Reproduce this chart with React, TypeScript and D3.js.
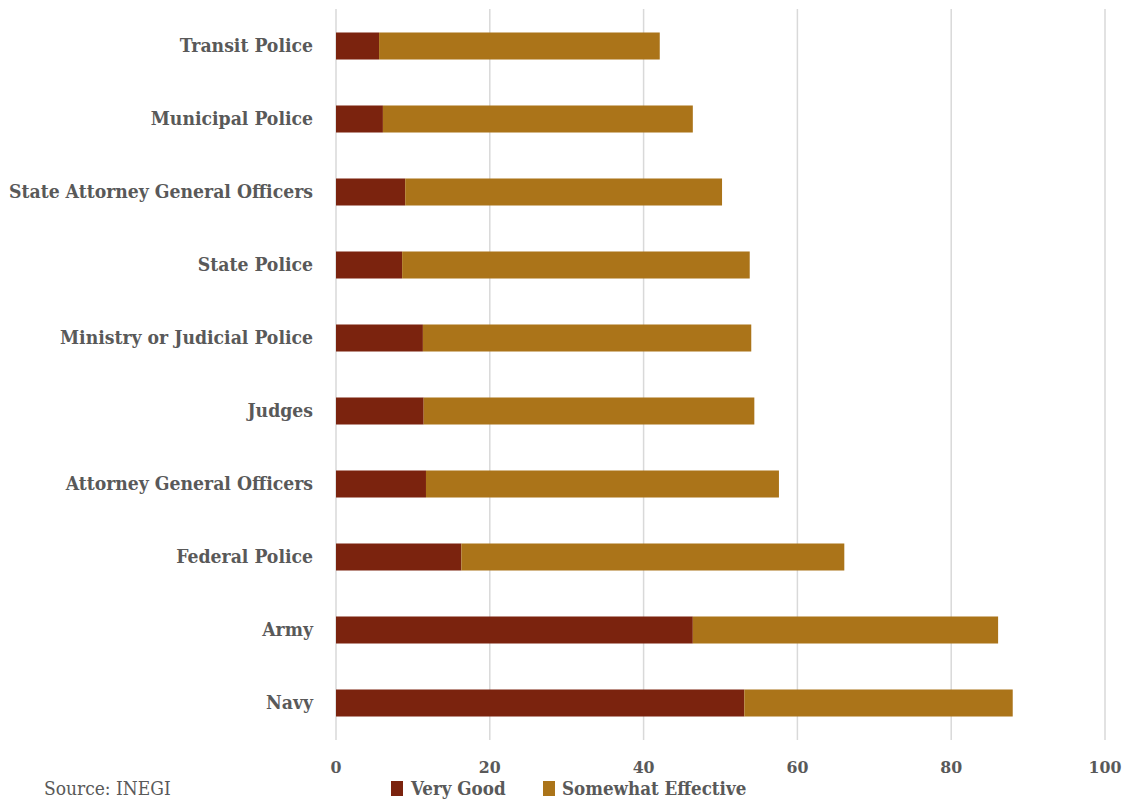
import React from "react";
import * as d3 from "d3";

const categories = [
  "Transit Police",
  "Municipal Police",
  "State Attorney General Officers",
  "State Police",
  "Ministry or Judicial Police",
  "Judges",
  "Attorney General Officers",
  "Federal Police",
  "Army",
  "Navy",
];
const veryGood = [5.6, 6.1, 9.0, 8.6, 11.3, 11.4, 11.7, 16.3, 46.4, 53.1];
const somewhatEffective = [36.5, 40.3, 41.2, 45.2, 42.7, 43.0, 45.9, 49.8, 39.7, 34.9];
const xTicks = [0, 20, 40, 60, 80, 100];
const seriesNames = ["Very Good", "Somewhat Effective"];
const colors = ["#7B230E", "#AB7419"];

const W = 1125;
const H = 801;
const FONT = "'DejaVu Serif Condensed', 'DejaVu Serif', serif";

export default function App() {
  const x = d3.scaleLinear().domain([0, 100]).range([336, 1105]);
  const y = d3.scaleBand<string>().domain(categories).range([9.5, 739.5]).paddingInner(0.63).paddingOuter(0.315);
  const rows = categories.map((c, i) => ({ c, v: veryGood[i], s: somewhatEffective[i] }));
  const textColor = "#595959";
  return (
    <svg width={W} height={H} style={{ position: "absolute", left: 0, top: 0, background: "#fff" }}>
      {xTicks.map((t) => (
        <g key={t}>
          <line x1={x(t)} x2={x(t)} y1={9} y2={740} stroke="#d9d9d9" strokeWidth={1.5} />
          <text x={x(t)} y={773} textAnchor="middle" fontFamily={FONT} fontWeight="bold" fontSize={17.5} fill={textColor}>
            {t}
          </text>
        </g>
      ))}
      {rows.map((r) => (
        <g key={r.c}>
          <rect x={x(0)} y={y(r.c)} width={x(r.v) - x(0)} height={y.bandwidth()} fill={colors[0]} />
          <rect x={x(r.v)} y={y(r.c)} width={x(r.v + r.s) - x(r.v)} height={y.bandwidth()} fill={colors[1]} />
          <text x={313} y={(y(r.c) as number) + y.bandwidth() / 2 - 1} dy="0.35em" textAnchor="end" fontFamily={FONT} fontWeight="bold" fontSize={19.2} fill={textColor}>
            {r.c}
          </text>
        </g>
      ))}
      <g>
        <rect x={391} y={781} width={12} height={15} fill={colors[0]} />
        <text x={411} y={795} fontFamily={FONT} fontWeight="bold" fontSize={18.6} fill={textColor}>{seriesNames[0]}</text>
        <rect x={543} y={781} width={12} height={15} fill={colors[1]} />
        <text x={562} y={795} fontFamily={FONT} fontWeight="bold" fontSize={18.6} fill={textColor}>{seriesNames[1]}</text>
      </g>
      <text x={44} y={795} fontFamily={FONT} fontSize={19} fill={textColor}>Source: INEGI</text>
    </svg>
  );
}
